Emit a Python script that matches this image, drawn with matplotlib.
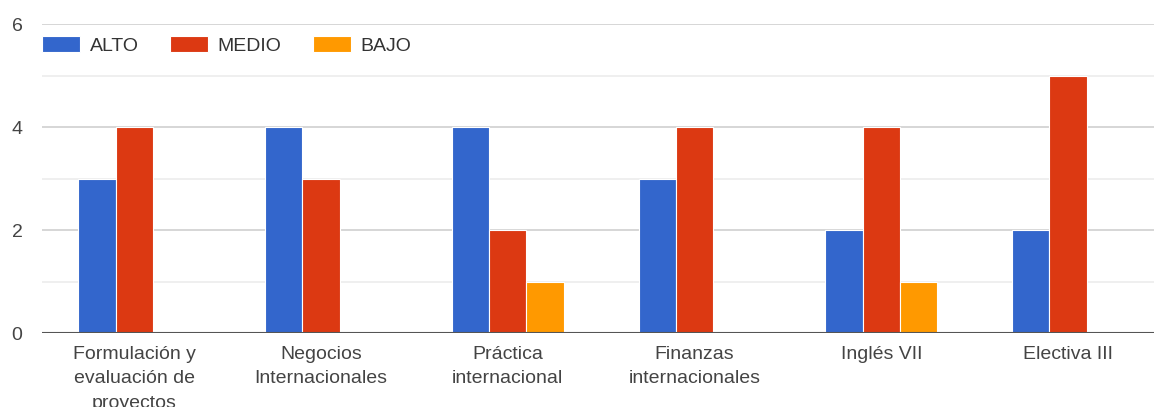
import numpy as np
import matplotlib
matplotlib.use("Agg")
from matplotlib import pyplot as plt

categories = ["Formulación y\nevaluación de\nproyectos",
              "Negocios\nInternacionales",
              "Práctica\ninternacional",
              "Finanzas\ninternacionales",
              "Inglés VII",
              "Electiva III"]
series_names = ["ALTO", "MEDIO", "BAJO"]
alto = [3, 4, 4, 3, 2, 2]
medio = [4, 3, 2, 4, 4, 5]
bajo = [0, 0, 1, 0, 1, 0]
colors = ["#3366cc", "#dc3912", "#ff9900"]

plt.rcParams['font.family'] = ['Liberation Sans', 'DejaVu Sans']

fig = plt.figure(figsize=(11.54, 4.07), dpi=100)
ax = fig.add_axes([0.0364, 0.1818, 0.9636, 0.759])

x = np.arange(len(categories))
w = 0.2
for i, (vals, name, c) in enumerate(zip([alto, medio, bajo], series_names, colors)):
    ax.bar(x + (i - 1) * w, vals, width=w, color=c, edgecolor="white",
           linewidth=0.8, label=name, zorder=3)

ax.set_xlim(-0.494, 5.46)
ax.set_ylim(0, 6)
ax.set_yticks([0, 2, 4, 6])
ax.set_yticks([1, 3, 5], minor=True)
ax.grid(axis="y", which="major", color="#d0d0d0", linewidth=1.2, zorder=0)
ax.grid(axis="y", which="minor", color="#ececec", linewidth=1.2, zorder=0)
ax.axhline(0, color="#555555", linewidth=1.5, zorder=4)

ax.set_xticks(x)
ax.set_xticklabels(categories, fontsize=14, color="#444444", linespacing=1.55,
                   va="top")
ax.tick_params(axis="x", length=0, pad=9.5)
ax.tick_params(axis="y", which="both", length=0, pad=14, labelsize=14,
               labelcolor="#444444")
for s in ax.spines.values():
    s.set_visible(False)

ax.legend(loc="upper left", bbox_to_anchor=(0.0, 0.962), ncol=3, frameon=False,
          fontsize=14, handlelength=1.96, handleheight=0.93, handletextpad=0.5,
          columnspacing=1.6, borderpad=0, borderaxespad=0, labelcolor="#333333")

plt.savefig("out.png", dpi=100)
